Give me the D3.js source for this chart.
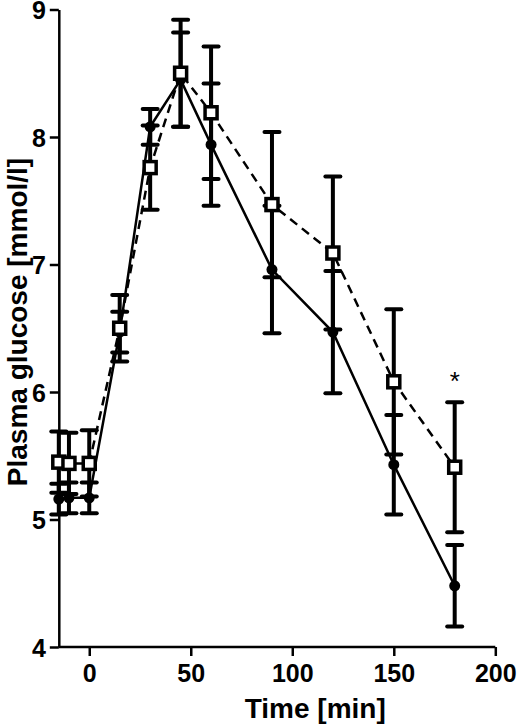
<!DOCTYPE html>
<html>
<head>
<meta charset="utf-8">
<script src="https://cdn.jsdelivr.net/npm/d3@7"></script>
<style>
  body { margin: 0; background: #fff; }
  svg { display: block; }
</style>
</head>
<body>
<svg width="520" height="727"></svg>
<script>
(function () {
  "use strict";
  const times = [-15, -10, 0, 15, 30, 45, 60, 90, 120, 150, 180];
  const solidMean = [5.16, 5.17, 5.17, 6.47, 8.08, 8.45, 7.94, 6.96, 6.47, 5.43, 4.48];
  const solidErr = [0.12, 0.12, 0.12, 0.16, 0.14, 0.37, 0.48, 0.50, 0.48, 0.39, 0.32];
  const dashMean = [5.45, 5.44, 5.44, 6.50, 7.76, 8.50, 8.19, 7.47, 7.09, 6.08, 5.41];
  const dashErr = [0.24, 0.24, 0.26, 0.26, 0.33, 0.42, 0.52, 0.57, 0.60, 0.57, 0.51];
  const xTicks = [0, 50, 100, 150, 200];
  const yTicks = [4, 5, 6, 7, 8, 9];
  const starTime = 180;

  const svg = d3.select("svg");
  const font = "'Liberation Sans', Arial, sans-serif";

  const x = d3.scaleLinear().domain([-15, 200]).range([58.8, 495.3]);
  const y = d3.scaleLinear().domain([4, 9]).range([647, 9.5]);

  const solid = times.map((t, i) => ({ t: t, v: solidMean[i], e: solidErr[i] }));
  const dashed = times.map((t, i) => ({ t: t, v: dashMean[i], e: dashErr[i] }));

  // axes
  const xAxis = svg.append("g")
    .attr("transform", `translate(0,${y(4)})`)
    .call(d3.axisBottom(x).tickValues(xTicks).tickFormat(d3.format("d"))
      .tickSize(9).tickSizeOuter(0).tickPadding(8));
  const yAxis = svg.append("g")
    .attr("transform", `translate(${x(-15)},0)`)
    .call(d3.axisLeft(y).tickValues(yTicks).tickFormat(d3.format("d"))
      .tickSize(9).tickSizeOuter(0).tickPadding(4));

  [xAxis, yAxis].forEach(a => {
    a.selectAll("path, line").attr("stroke", "#000").attr("stroke-width", 2.5);
    a.selectAll("text")
      .attr("font-family", font)
      .attr("font-weight", "bold")
      .attr("font-size", 25)
      .attr("fill", "#000");
  });
  xAxis.select(".domain").attr("d", `M${x(-15)},0H${x(200)}`);
  yAxis.selectAll(".tick text").attr("dy", "0.36em");

  svg.append("text")
    .attr("x", (x(0) + x(200)) / 2 + 23)
    .attr("y", 718)
    .attr("text-anchor", "middle")
    .attr("font-family", font)
    .attr("font-weight", "bold")
    .attr("font-size", 28)
    .text("Time [min]");

  svg.append("text")
    .attr("transform", "translate(27,322) rotate(-90)")
    .attr("text-anchor", "middle")
    .attr("font-family", font)
    .attr("font-weight", "bold")
    .attr("font-size", 28)
    .text("Plasma glucose [mmol/l]");

  // lines
  const line = d3.line().x(d => x(d.t)).y(d => y(d.v));
  svg.append("path").datum(solid)
    .attr("d", line).attr("fill", "none")
    .attr("stroke", "#000").attr("stroke-width", 2.5);
  svg.append("path").datum(dashed)
    .attr("d", line).attr("fill", "none")
    .attr("stroke", "#000").attr("stroke-width", 2.5)
    .attr("stroke-dasharray", "9,6");

  // error bars
  function errorBars(data) {
    const g = svg.append("g").attr("stroke", "#000").attr("stroke-width", 4);
    g.selectAll(".v").data(data).join("line")
      .attr("x1", d => x(d.t)).attr("x2", d => x(d.t))
      .attr("y1", d => y(d.v - d.e)).attr("y2", d => y(d.v + d.e));
    g.selectAll(".top").data(data).join("line")
      .attr("x1", d => x(d.t) - 7.5).attr("x2", d => x(d.t) + 7.5)
      .attr("y1", d => y(d.v + d.e)).attr("y2", d => y(d.v + d.e))
      .attr("stroke-linecap", "round");
    g.selectAll(".bot").data(data).join("line")
      .attr("x1", d => x(d.t) - 7.5).attr("x2", d => x(d.t) + 7.5)
      .attr("y1", d => y(d.v - d.e)).attr("y2", d => y(d.v - d.e))
      .attr("stroke-linecap", "round");
  }
  errorBars(solid);
  errorBars(dashed);

  // markers
  svg.append("g").selectAll("circle").data(solid).join("circle")
    .attr("cx", d => x(d.t)).attr("cy", d => y(d.v))
    .attr("r", 5.5).attr("fill", "#000");

  svg.append("g").selectAll("rect").data(dashed).join("rect")
    .attr("x", d => x(d.t) - 6).attr("y", d => y(d.v) - 6)
    .attr("width", 12).attr("height", 12)
    .attr("fill", "#fff").attr("stroke", "#000").attr("stroke-width", 3.5);

  // significance marker
  const starIdx = times.indexOf(starTime);
  svg.append("text")
    .attr("x", x(starTime))
    .attr("y", y(dashMean[starIdx] + dashErr[starIdx]) - 12)
    .attr("text-anchor", "middle")
    .attr("font-family", font)
    .attr("font-size", 26)
    .text("*");
})(d3);
</script>
</body>
</html>
